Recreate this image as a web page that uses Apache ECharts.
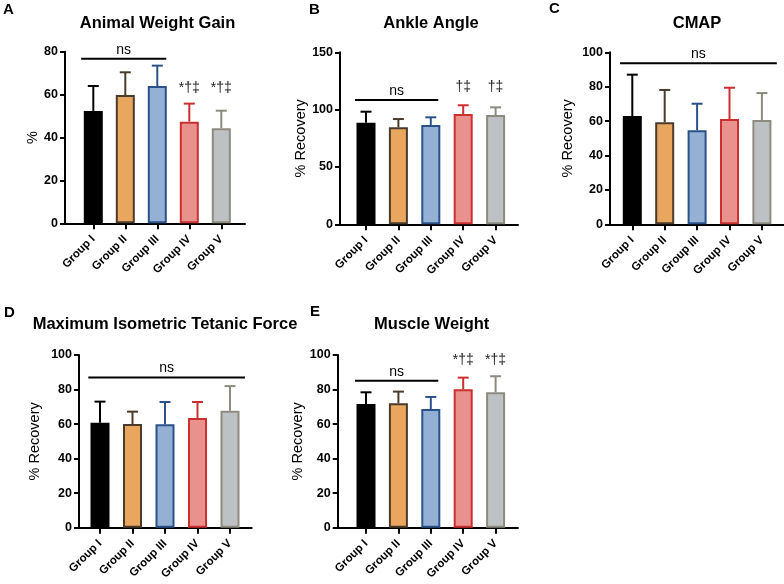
<!DOCTYPE html>
<html>
<head>
<meta charset="utf-8">
<script src="https://cdn.jsdelivr.net/npm/echarts@6/dist/echarts.min.js"></script>
<style>html,body{margin:0;padding:0;background:#fff}#c{width:784px;height:584px}</style>
</head>
<body>
<div id="c"></div>
<script>
// ---------- data ----------
const categories = ['Group I', 'Group II', 'Group III', 'Group IV', 'Group V'];

const weightMean  = [52.4, 59.8, 64.0, 47.4, 44.3];
const weightUpper = [64.0, 70.4, 73.5, 55.8, 52.5];

const ankleMean  = [88.6, 84.6, 86.6, 96.2, 95.3];
const ankleUpper = [98.2, 91.8, 93.3, 103.8, 102.0];

const cmapMean  = [63.0, 59.3, 54.7, 61.2, 60.6];
const cmapUpper = [87.0, 78.1, 70.1, 79.4, 76.3];

const forceMean  = [60.8, 60.0, 59.9, 63.5, 67.7];
const forceUpper = [73.0, 67.2, 72.8, 72.8, 82.0];

const muscleMean  = [71.6, 72.0, 68.7, 80.1, 78.4];
const muscleUpper = [78.4, 78.8, 75.7, 86.9, 87.7];

// ns brackets: [first group index, last group index, y level]
const nsWeight = [0, 2, 76.7];
const nsAnkle  = [0, 2, 108.4];
const nsCmap   = [0, 4, 93.6];
const nsForce  = [0, 4, 86.9];
const nsMuscle = [0, 2, 85.1];

// significance marks
const sigWeight = ['', '', '', '*†‡', '*†‡'];
const sigAnkle  = ['', '', '', '†‡', '†‡'];
const sigMuscle = ['', '', '', '*†‡', '*†‡'];
const sigLevelWeight = 63.0;
const sigLevelAnkle = 119.7;
const sigLevelMuscle = 97.1;

// y axis ranges [min, max, interval]
const yWeight = [0, 80, 20];
const yAnkle  = [0, 150, 50];
const yPct    = [0, 100, 20];

// ---------- styles ----------
const fills   = ['#000000', '#E9A65F', '#95B0D5', '#E8918D', '#BEC1C4'];
const borders = ['#000000', '#4B3B2B', '#2B5288', '#CC2F2F', '#8D8A80'];
const FONT = 'Liberation Sans, Arial, Helvetica, sans-serif';

const panels = [
  {letter:'A', title:'Animal Weight Gain', tx:157.5, ty:15, lx:3, ly:2, yName:'%', nameGap:25,
   frame:{left:65, top:51.7, width:180, height:171.6}, main:{left:77.3, width:160},
   y:yWeight, mean:weightMean, upper:weightUpper, ns:nsWeight, nsL:0.38, nsR:0.28, sig:sigWeight, sigLevel:sigLevelWeight},
  {letter:'B', title:'Ankle Angle', tx:431, ty:15, lx:309, ly:2, yName:'% Recovery', nameGap:30,
   frame:{left:340, top:52.3, width:178, height:172}, main:{left:349.8, width:162},
   y:yAnkle, mean:ankleMean, upper:ankleUpper, ns:nsAnkle, nsL:0.34, nsR:0.23, sig:sigAnkle, sigLevel:sigLevelAnkle},
  {letter:'C', title:'CMAP', tx:697, ty:15, lx:549, ly:1, yName:'% Recovery', nameGap:35,
   frame:{left:610, top:52.3, width:174, height:172}, main:{left:616.1, width:162},
   y:yPct, mean:cmapMean, upper:cmapUpper, ns:nsCmap, nsL:0.38, nsR:0.46},
  {letter:'D', title:'Maximum Isometric Tetanic Force', tx:165, ty:316, lx:4, ly:305, yName:'% Recovery', nameGap:37,
   frame:{left:79, top:355, width:172.7, height:172.7}, main:{left:83.75, width:162.5},
   y:yPct, mean:forceMean, upper:forceUpper, ns:nsForce, nsL:0.36, nsR:0.46},
  {letter:'E', title:'Muscle Weight', tx:431.7, ty:316, lx:310, ly:304, yName:'% Recovery', nameGap:28,
   frame:{left:337.7, top:355, width:180.3, height:172.7}, main:{left:349.8, width:162},
   y:yPct, mean:muscleMean, upper:muscleUpper, ns:nsMuscle, nsL:0.34, nsR:0.23, sig:sigMuscle, sigLevel:sigLevelMuscle}
];

const option = {
  animation:false, backgroundColor:'#fff',
  textStyle:{fontFamily:FONT},
  title:[], grid:[], xAxis:[], yAxis:[], series:[]
};

panels.forEach((p) => {
  option.title.push({text:p.title, left:p.tx, top:p.ty, textAlign:'center', padding:0,
    textStyle:{fontFamily:FONT, fontSize:16.5, fontWeight:'bold', color:'#000'}});
  option.title.push({text:p.letter, left:p.lx, top:p.ly, padding:0,
    textStyle:{fontFamily:FONT, fontSize:15, fontWeight:'bold', color:'#000'}});

  const fg = option.grid.length;
  option.grid.push({left:p.frame.left, top:p.frame.top, width:p.frame.width, height:p.frame.height, containLabel:false, outerBoundsMode:'none'});
  option.grid.push({left:p.main.left, top:p.frame.top, width:p.main.width, height:p.frame.height, containLabel:false, outerBoundsMode:'none'});
  const mg = fg + 1;

  // frame axes
  option.xAxis.push({gridIndex:fg, type:'value', min:0, max:1, axisLine:{show:true, onZero:false, lineStyle:{color:'#000', width:2}},
    axisTick:{show:false}, axisLabel:{show:false}, splitLine:{show:false}});
  option.yAxis.push({gridIndex:fg, type:'value', min:p.y[0], max:p.y[1], interval:p.y[2],
    name:p.yName, nameLocation:'middle', nameGap:p.nameGap,
    nameTextStyle:{fontFamily:FONT, fontSize:14.5, color:'#000'},
    axisLine:{show:true, lineStyle:{color:'#000', width:2}},
    axisTick:{show:true, length:5, lineStyle:{color:'#000', width:2}},
    axisLabel:{fontFamily:FONT, fontSize:12.5, fontWeight:'bold', color:'#000', margin:7},
    splitLine:{show:false}});
  // main axes
  const mx = option.xAxis.length;
  option.xAxis.push({gridIndex:mg, type:'category', data:categories,
    axisLine:{show:false}, axisTick:{show:true, alignWithLabel:true, length:6, lineStyle:{color:'#000', width:2}},
    axisLabel:{interval:0, rotate:45, fontFamily:FONT, fontSize:11.5, fontWeight:'bold', color:'#000', margin:14},
    splitLine:{show:false}});
  const my = option.yAxis.length;
  option.yAxis.push({gridIndex:mg, type:'value', min:p.y[0], max:p.y[1], interval:p.y[2], show:false});

  // bars
  option.series.push({type:'bar', xAxisIndex:mx, yAxisIndex:my, barWidth:19,
    data:p.mean.map((v,i)=>({value:v, itemStyle:{color:fills[i], borderColor:borders[i], borderWidth:2}})), z:2});

  // error bars (upper only)
  const errData = p.mean.map((v,i)=>[i, v, p.upper[i]]);
  option.series.push({type:'custom', xAxisIndex:mx, yAxisIndex:my, z:3,
    data:errData, encode:{x:0, y:[1,2]},
    renderItem:(params, api)=>{
      const i = api.value(0);
      const a = api.coord([i, api.value(1)]);
      const b = api.coord([i, api.value(2)]);
      const col = borders[params.dataIndex];
      return {type:'group', children:[
        {type:'line', shape:{x1:a[0], y1:a[1], x2:b[0], y2:b[1]}, style:{stroke:col, lineWidth:2}},
        {type:'line', shape:{x1:b[0]-5.5, y1:b[1], x2:b[0]+5.5, y2:b[1]}, style:{stroke:col, lineWidth:2}}
      ]};
    }});

  // ns bracket
  option.series.push({type:'custom', xAxisIndex:mx, yAxisIndex:my, z:4,
    data:[p.ns], encode:{x:[0,1], y:2},
    renderItem:(params, api)=>{
      const a = api.coord([api.value(0), api.value(2)]);
      const b = api.coord([api.value(1), api.value(2)]);
      const bw = api.size([1, 0])[0];
      const x1 = a[0] - p.nsL*bw, x2 = b[0] + p.nsR*bw;
      return {type:'group', children:[
        {type:'line', shape:{x1:x1, y1:a[1], x2:x2, y2:a[1]}, style:{stroke:'#000', lineWidth:2}},
        {type:'text', style:{text:'ns', x:(x1+x2)/2, y:a[1]-2, align:'center', verticalAlign:'bottom',
          font:'14px ' + FONT, fill:'#000'}}
      ]};
    }});

  // significance marks
  if (p.sig) {
    const sd = p.sig.map((s,i)=>[i, p.sigLevel]);
    option.series.push({type:'custom', xAxisIndex:mx, yAxisIndex:my, z:4,
      data:sd, encode:{x:0, y:1},
      renderItem:(params, api)=>{
        const t = p.sig[params.dataIndex];
        if (!t) return null;
        const c = api.coord([api.value(0), api.value(1)]);
        return {type:'text', style:{text:t, x:c[0], y:c[1], align:'center', verticalAlign:'middle',
          font:'14px ' + FONT, fill:'#222'}};
      }});
  }
});

const chart = echarts.init(document.getElementById('c'), null, {renderer:'canvas'});
chart.setOption(option);
</script>
</body>
</html>
